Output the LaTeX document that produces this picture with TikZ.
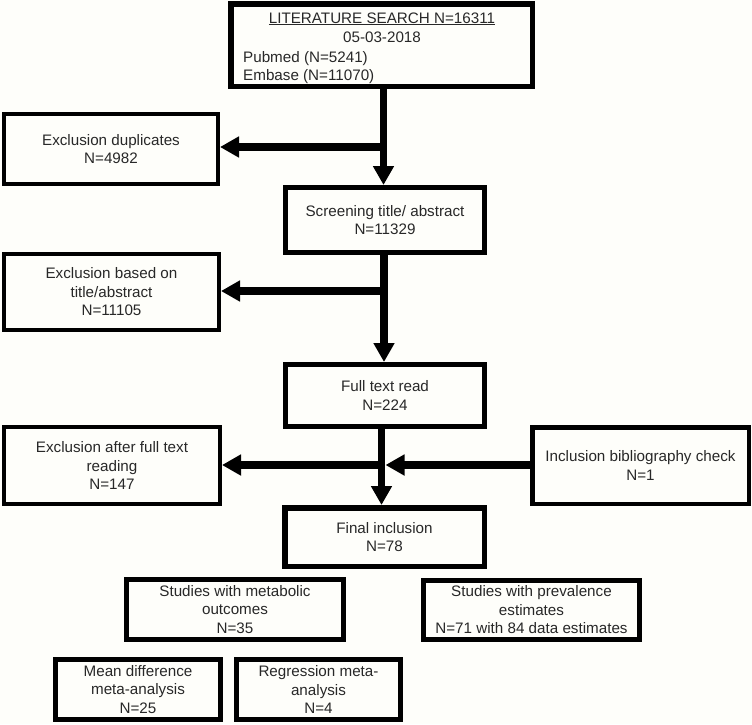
\documentclass[tikz,border=0pt]{standalone}
\usepackage{fontspec}
\setmainfont{Liberation Sans}
\usetikzlibrary{arrows.meta,calc}
\definecolor{bgc}{RGB}{254,254,250}
\definecolor{txtc}{RGB}{40,40,40}
\tikzset{
  fnt/.style={font=\fontsize{15.2}{18.5}\selectfont, text=txtc},
  box/.style={draw=black, fill=bgc, inner sep=0pt, align=center, fnt},
  conn/.style={draw=black, line width=7.5pt, -{Triangle[length=19pt,width=20pt]}},
  plainline/.style={draw=black, line width=7.5pt},
}
\begin{document}
\begin{tikzpicture}[x=1pt,y=-1pt]
\fill[bgc] (0,0) rectangle (752,724);
\useasboundingbox (0,0) rectangle (752,724);

% boxes
\node[box, line width=5.5pt, minimum width=301.5pt, minimum height=82.5pt] (search) at (381.5,45) {};
\node[fnt, anchor=base] (stitle) at (382,23) {\underline{LITERATURE SEARCH N=16311}};
\node[fnt, anchor=base] (sdate) at (382,42) {05-03-2018};
\node[fnt, anchor=base west, inner sep=0pt] (pubmed) at (243,62) {Pubmed (N=5241)};
\node[fnt, anchor=base west, inner sep=0pt] (embase) at (243,80) {Embase (N=11070)};

\node[box, line width=4pt, minimum width=214pt, minimum height=70pt] (dup) at (111,149) {Exclusion duplicates\\N=4982};
\node[box, line width=5pt, minimum width=199pt, minimum height=65pt] (screen) at (385,220) {Screening title/ abstract\\N=11329};
\node[box, line width=4pt, minimum width=215pt, minimum height=76pt] (extitle) at (111.5,292) {Exclusion based on\\title/abstract\\N=11105};
\node[box, line width=5pt, minimum width=199pt, minimum height=62pt] (full) at (385,395.5) {Full text read\\N=224};
\node[box, line width=4pt, minimum width=216pt, minimum height=77pt] (exafter) at (112,465.5) {Exclusion after full text\\reading\\N=147};
\node[box, line width=4.5pt, minimum width=216.5pt, minimum height=76.5pt] (incl) at (640.5,465.5) {Inclusion bibliography check\\N=1};
\node[box, line width=5.5pt, minimum width=199.5pt, minimum height=58.5pt] (final) at (384.5,537) {Final inclusion\\N=78};
\node[box, line width=5pt, minimum width=217pt, minimum height=60pt] (metab) at (235,609.5) {Studies with metabolic\\outcomes\\N=35};
\node[box, line width=5pt, minimum width=216pt, minimum height=59pt] (prev) at (531.5,610) {Studies with prevalence\\estimates\\N=71 with 84 data estimates};
\node[box, line width=5pt, minimum width=165pt, minimum height=60pt] (mean) at (138,689.5) {Mean difference\\meta-analysis\\N=25};
\node[box, line width=5pt, minimum width=164pt, minimum height=60pt] (regr) at (318.5,689.5) {Regression meta-\\analysis\\N=4};

% junctions
\coordinate (j1) at (383.5,147);
\coordinate (j2) at (384,291);
\coordinate (j3) at (381.5,465);

% connectors
\draw[conn] (search.south -| j1) -- (screen.north -| j1);
\draw[conn] (j1) -- (j1 -| dup.east);
\draw[conn] (screen.south -| j2) -- (full.north -| j2);
\draw[conn] (j2) -- (j2 -| extitle.east);
\draw[conn] (full.south -| j3) -- (final.north -| j3);
\draw[conn] (j3) -- (j3 -| exafter.east);
\draw[conn, shorten >=4pt] (incl.west |- j3) -- (j3);
\end{tikzpicture}
\end{document}
